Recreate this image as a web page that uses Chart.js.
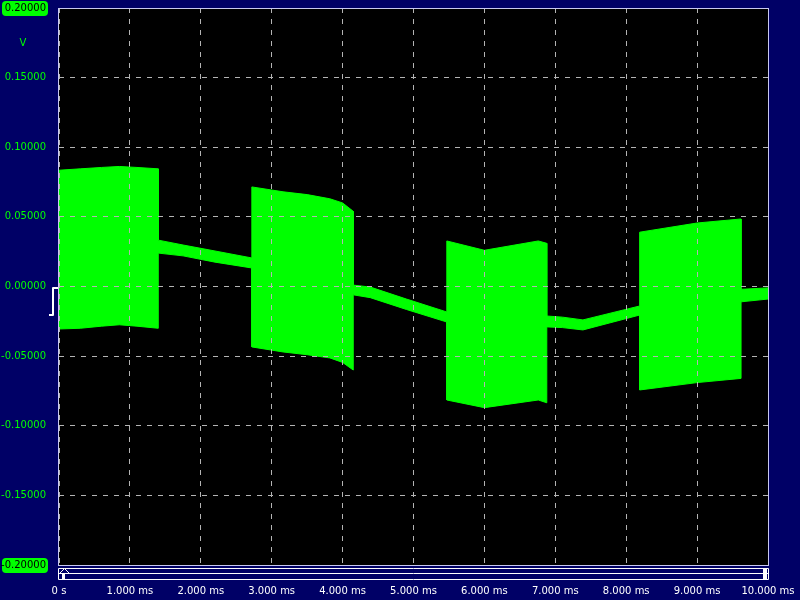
<!DOCTYPE html>
<html>
<head>
<meta charset="utf-8">
<script src="https://cdn.jsdelivr.net/npm/chart.js@4.4.1/dist/chart.umd.min.js"></script>
<style>
	html, body { margin: 0; padding: 0; background: #000066; }
	canvas { display: block; }
</style>
</head>
<body>
<canvas id="scope" width="800" height="600"></canvas>
<script>
// envelope of the captured signal (time in ms, volts)
const timeMs = [0, 0.3, 0.6, 0.85, 1.1, 1.4, 1.4, 1.75, 2.2, 2.72, 2.72, 3.16, 3.5, 3.82, 4.0, 4.15, 4.15, 4.39, 4.9, 5.47, 5.47, 6.0, 6.76, 6.88, 6.88, 7.1, 7.39, 8.19, 8.19, 9.0, 9.62, 9.62, 10.0];
const upperV = [0.0835, 0.0845, 0.0855, 0.0862, 0.0855, 0.0845, 0.0333, 0.0298, 0.0255, 0.0205, 0.0715, 0.0680, 0.0660, 0.0630, 0.0600, 0.0540, 0.0010, -0.0004, -0.0090, -0.0183, 0.0327, 0.0260, 0.0327, 0.0310, -0.0212, -0.0220, -0.0240, -0.0140, 0.0390, 0.0456, 0.0485, -0.0020, -0.0010];
const lowerV = [-0.0305, -0.0300, -0.0285, -0.0275, -0.0285, -0.0300, 0.0240, 0.0220, 0.0175, 0.0133, -0.0434, -0.0470, -0.0490, -0.0513, -0.0545, -0.0600, -0.0060, -0.0080, -0.0165, -0.0255, -0.0815, -0.0870, -0.0815, -0.0835, -0.0290, -0.0295, -0.0312, -0.0205, -0.0743, -0.0690, -0.0660, -0.0110, -0.0090];

// axis settings
const xMin = 0, xMax = 10, xStep = 1;
const yMin = -0.2, yMax = 0.2, yStep = 0.05;
const yUnit = 'V';

const navy = '#000066';
const trace = '#00ff00';

Chart.defaults.font.family = "'DejaVu Sans', sans-serif";
Chart.defaults.font.size = 10;

function isRangeEnd(v) {
	return Math.abs(Math.abs(v) - yMax) < 1e-9;
}

// fixed-size axes, no overhang padding from the labels
function fixAxis(scale, size) {
	if (scale.isHorizontal()) scale.height = size;
	else scale.width = size;
	scale.paddingTop = 0;
	scale.paddingBottom = 0;
	scale.paddingLeft = 0;
	scale.paddingRight = 0;
}

// screen furniture: background, range boxes, frame, trigger mark, scroll bar
const scopeDeco = {
	id: 'scopeDeco',
	beforeDraw(chart) {
		const { ctx, chartArea: a } = chart;
		const ys = chart.scales.y;
		ctx.save();
		ctx.fillStyle = navy;
		ctx.fillRect(0, 0, chart.width, chart.height);
		ctx.fillStyle = '#000000';
		ctx.fillRect(a.left, a.top, a.right - a.left, a.bottom - a.top);

		ctx.fillStyle = trace;
		[yMax, yMin].forEach(v => {
			const py = ys.getPixelForValue(v);
			ctx.beginPath();
			ctx.roundRect(2, py - 7, 46, 15, 4);
			ctx.fill();
		});
		ctx.restore();
	},
	afterDraw(chart) {
		const { ctx, chartArea: a } = chart;
		const ys = chart.scales.y;
		ctx.save();

		// plot frame
		ctx.strokeStyle = '#c8c8f0';
		ctx.lineWidth = 1;
		ctx.strokeRect(a.left - 0.5, a.top + 0.5, a.right - a.left + 1, a.bottom - a.top);

		// unit label
		ctx.fillStyle = trace;
		ctx.font = "10px 'DejaVu Sans', sans-serif";
		ctx.textAlign = 'center';
		ctx.textBaseline = 'middle';
		ctx.fillText(yUnit, 23, 43);

		// trigger marker (rising edge) at 0 V
		const y0 = Math.round(ys.getPixelForValue(0));
		ctx.strokeStyle = '#ffffff';
		ctx.lineWidth = 2;
		ctx.lineJoin = 'round';
		ctx.beginPath();
		ctx.moveTo(58, y0 + 1);
		ctx.lineTo(53, y0 + 1);
		ctx.lineTo(53, y0 + 28);
		ctx.lineTo(49, y0 + 28);
		ctx.stroke();

		// scroll bar under the plot
		ctx.lineWidth = 1;
		ctx.strokeRect(a.left - 0.5, 568.5, a.right - a.left + 1, 11);
		ctx.beginPath();
		ctx.moveTo(a.left, 573.5);
		ctx.lineTo(a.right, 573.5);
		ctx.stroke();
		ctx.fillStyle = navy;
		ctx.beginPath();
		ctx.moveTo(a.left + 0.5, 573.5);
		ctx.lineTo(a.left + 5.5, 568.5);
		ctx.lineTo(a.left + 10.5, 573.5);
		ctx.closePath();
		ctx.fill();
		ctx.stroke();
		ctx.fillStyle = '#ffffff';
		ctx.fillRect(a.left + 3, 574, 3, 5);
		ctx.fillRect(a.right - 5, 569, 4, 10);

		ctx.restore();
	}
};

const upperPts = timeMs.map((t, i) => ({ x: t, y: upperV[i] }));
const lowerPts = timeMs.map((t, i) => ({ x: t, y: lowerV[i] }));

const ctx1 = document.getElementById('scope').getContext('2d');

new Chart(ctx1, {
	type: 'line',
	data: {
		datasets: [{
			label: 'upper',
			data: upperPts,
			borderColor: trace,
			backgroundColor: trace,
			borderWidth: 1,
			pointRadius: 0,
			fill: '+1'
		}, {
			label: 'lower',
			data: lowerPts,
			borderColor: trace,
			backgroundColor: trace,
			borderWidth: 1,
			pointRadius: 0,
			fill: false
		}]
	},
	options: {
		responsive: false,
		animation: false,
		devicePixelRatio: 1,
		layout: { padding: { left: 0, top: 8, right: 32, bottom: 0 } },
		elements: { line: { tension: 0 } },
		plugins: {
			legend: { display: false },
			tooltip: { enabled: false }
		},
		scales: {
			x: {
				type: 'linear',
				min: xMin,
				max: xMax,
				afterFit: (scale) => fixAxis(scale, 35),
				grid: { color: '#b4b4b4', lineWidth: 1, drawTicks: false, z: 1 },
				border: { display: false, dash: [5, 6] },
				ticks: {
					stepSize: xStep,
					color: '#ffffff',
					padding: 20,
					maxRotation: 0,
					autoSkip: false,
					callback: (v) => v === 0 ? '0 s' : v.toFixed(3) + ' ms'
				}
			},
			y: {
				min: yMin,
				max: yMax,
				afterFit: (scale) => fixAxis(scale, 59),
				grid: { color: '#b4b4b4', lineWidth: 1, drawTicks: false, z: 1 },
				border: { display: false, dash: [5, 6] },
				ticks: {
					stepSize: yStep,
					padding: 13,
					autoSkip: false,
					color: (c) => isRangeEnd(c.tick.value) ? '#000000' : trace,
					callback: (v) => {
						const r = Math.round(v * 1e5) / 1e5;
						return (r === 0 ? 0 : r).toFixed(5);
					}
				}
			}
		}
	},
	plugins: [scopeDeco]
});
</script>
</body>
</html>
